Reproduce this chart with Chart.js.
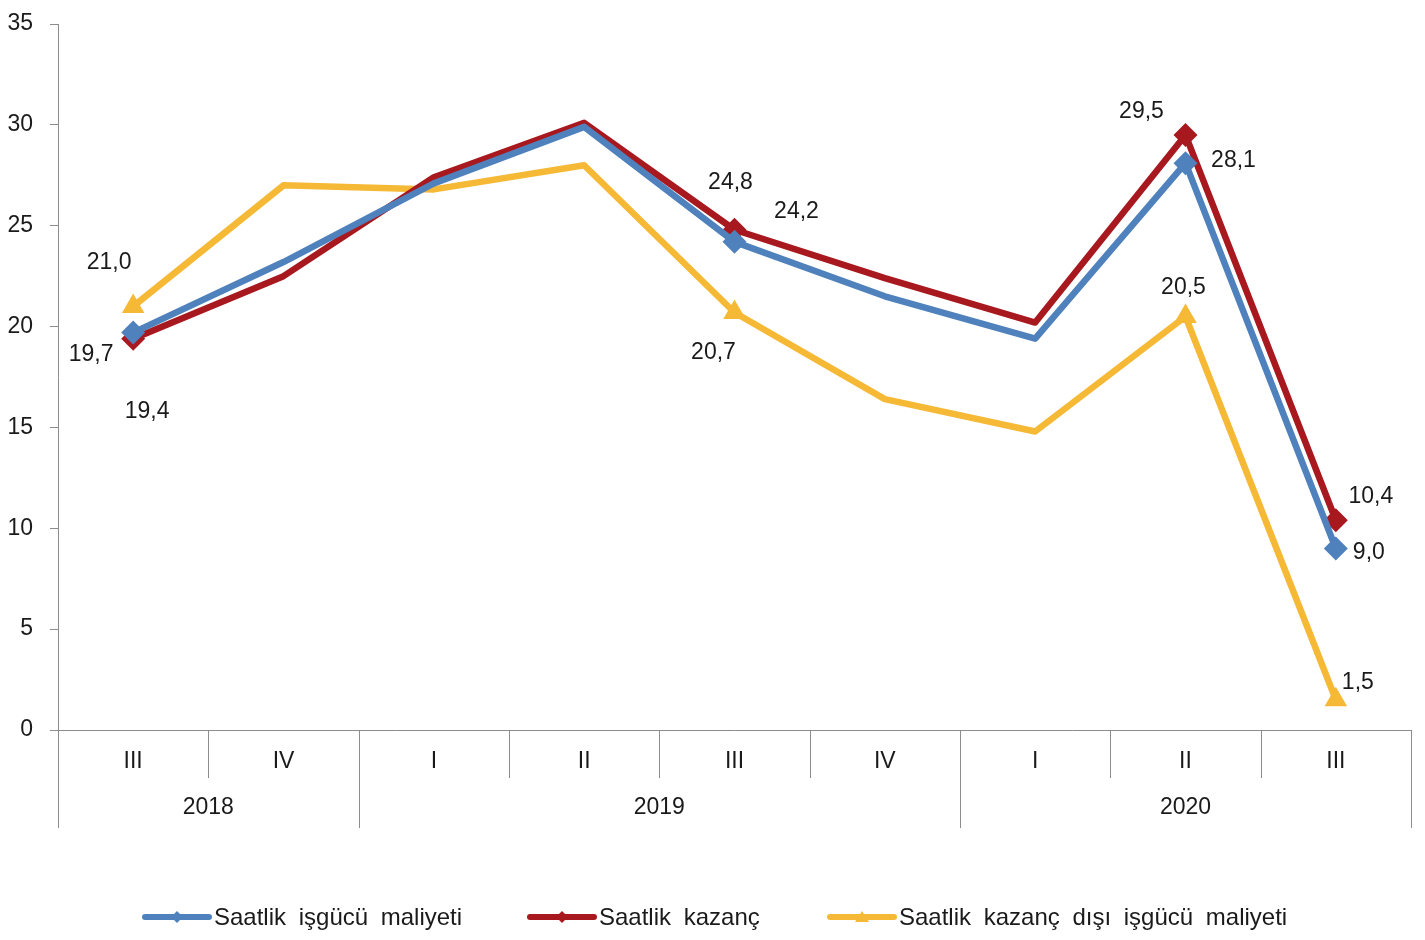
<!DOCTYPE html>
<html>
<head>
<meta charset="utf-8">
<script src="https://cdn.jsdelivr.net/npm/chart.js@4/dist/chart.umd.min.js"></script>
<style>
	html, body { margin: 0; padding: 0; background: #fff; }
	#wrap { width: 1425px; height: 940px; }
</style>
</head>
<body>
<div id="wrap"><canvas id="chart" width="1425" height="940"></canvas></div>
<script>
// quarters and years (bottom axis)
const quarters = ['III', 'IV', 'I', 'II', 'III', 'IV', 'I', 'II', 'III'];
const years = [
	{ label: '2018', from: 0, to: 1 },
	{ label: '2019', from: 2, to: 5 },
	{ label: '2020', from: 6, to: 8 }
];
const yTicks = [0, 5, 10, 15, 20, 25, 30, 35];

// yillik degisim (%)
const saatlikIsgucu = [19.7, 23.2, 27.1, 29.9, 24.2, 21.5, 19.4, 28.1, 9.0];
const saatlikKazanc = [19.4, 22.5, 27.4, 30.1, 24.8, 22.4, 20.2, 29.5, 10.4];
const kazancDisi = [21.0, 27.0, 26.8, 28.0, 20.7, 16.4, 14.8, 20.5, 1.5];

// which points get a marker + value label
const labelled = [0, 4, 7, 8];

const seriesNames = ['Saatlik işgücü maliyeti', 'Saatlik kazanç', 'Saatlik kazanç dışı işgücü maliyeti'];
const colors = ['#4f81bd', '#a8191f', '#f5b936'];

// label offsets (px) from the point, per series, per labelled point
const labelOffsets = [
	{ 0: [-42, 22], 4: [62, -30], 7: [48, -3], 8: [33, 4] },
	{ 0: [14, 73], 4: [-4, -47], 7: [-44, -23], 8: [35, -24] },
	{ 0: [-24, -44], 4: [-21, 40], 7: [-2, -29], 8: [22, -17] }
];

const FONT = '"Liberation Sans", Arial, sans-serif';
const FSIZE = 23;

function radii(r)
{
	return quarters.map((q, i) => labelled.includes(i) ? r : 0);
}

const valueLabels = {
	id: 'valueLabels',
	afterDatasetsDraw(chart)
	{
		const ctx = chart.ctx;
		ctx.save();
		ctx.font = FSIZE + 'px ' + FONT;
		ctx.fillStyle = '#1a1a1a';
		ctx.textAlign = 'center';
		ctx.textBaseline = 'middle';
		chart.data.datasets.forEach((ds, d) => {
			const meta = chart.getDatasetMeta(d);
			labelled.forEach(i => {
				const pt = meta.data[i];
				const off = labelOffsets[d][i];
				ctx.fillText(ds.data[i].toFixed(1).replace('.', ','), pt.x + off[0], pt.y + off[1]);
			});
		});
		ctx.restore();
	}
};

// two level category axis + legend, drawn by hand
const bottomAxis = {
	id: 'bottomAxis',
	afterDraw(chart)
	{
		const ctx = chart.ctx;
		const x = chart.scales.x;
		const area = chart.chartArea;
		const w = (area.right - area.left) / quarters.length;
		const y0 = area.bottom;
		ctx.save();
		ctx.strokeStyle = '#8c8c8c';
		ctx.lineWidth = 1;
		// axis line
		ctx.beginPath();
		ctx.moveTo(area.left, y0 + 0.5);
		ctx.lineTo(area.right, y0 + 0.5);
		ctx.stroke();
		// quarter separators
		const yearEdges = [];
		years.forEach(y => { yearEdges.push(y.from); yearEdges.push(y.to + 1); });
		for (let i = 0; i <= quarters.length; i++)
		{
			const px = Math.round(area.left + i * w) + 0.5;
			ctx.beginPath();
			ctx.moveTo(px, y0);
			ctx.lineTo(px, yearEdges.includes(i) ? y0 + 98 : y0 + 48);
			ctx.stroke();
		}
		ctx.font = FSIZE + 'px ' + FONT;
		ctx.fillStyle = '#1a1a1a';
		ctx.textAlign = 'center';
		ctx.textBaseline = 'middle';
		quarters.forEach((q, i) => {
			ctx.fillText(q, x.getPixelForValue(i), y0 + 32);
		});
		years.forEach(y => {
			const cx = (x.getPixelForValue(y.from) + x.getPixelForValue(y.to)) / 2;
			ctx.fillText(y.label, cx, y0 + 78);
		});

		// legend
		const legendX = [145, 530, 830];
		const ly = 917;
		ctx.textAlign = 'left';
		ctx.font = '24px ' + FONT;
		ctx.wordSpacing = '6px';
		seriesNames.forEach((name, d) => {
			const lx = legendX[d];
			ctx.strokeStyle = colors[d];
			ctx.lineWidth = 6;
			ctx.lineCap = 'round';
			ctx.beginPath();
			ctx.moveTo(lx, ly);
			ctx.lineTo(lx + 64, ly);
			ctx.stroke();
			ctx.fillStyle = colors[d];
			ctx.beginPath();
			if (d === 2)
			{
				ctx.moveTo(lx + 32, ly - 6);
				ctx.lineTo(lx + 39, ly + 5);
				ctx.lineTo(lx + 25, ly + 5);
			}
			else
			{
				ctx.moveTo(lx + 32, ly - 6);
				ctx.lineTo(lx + 38, ly);
				ctx.lineTo(lx + 32, ly + 6);
				ctx.lineTo(lx + 26, ly);
			}
			ctx.closePath();
			ctx.fill();
			ctx.fillStyle = '#1a1a1a';
			ctx.fillText(name, lx + 69, ly + 1);
		});
		ctx.restore();
	}
};

const datasets = [saatlikIsgucu, saatlikKazanc, kazancDisi].map((vals, d) => ({
	label: seriesNames[d],
	data: vals,
	borderColor: colors[d],
	backgroundColor: colors[d],
	borderWidth: 6.5,
	pointStyle: d === 2 ? 'triangle' : 'rectRot',
	pointRadius: radii(d === 2 ? 13 : 12),
	pointHoverRadius: radii(d === 2 ? 13 : 12),
	pointBorderWidth: 0,
	tension: 0,
	borderJoinStyle: 'round'
}));

new Chart(document.getElementById('chart').getContext('2d'), {
	type: 'line',
	data: { labels: quarters, datasets: datasets },
	options: {
		responsive: false,
		animation: false,
		layout: { padding: { top: 24, right: 14, bottom: 202, left: 0 } },
		plugins: {
			legend: { display: false },
			tooltip: { enabled: false }
		},
		scales: {
			x: {
				offset: true,
				grid: { display: false },
				border: { display: false },
				ticks: { display: false }
			},
			y: {
				min: 0,
				max: 35,
				afterBuildTicks: s => { s.ticks = yTicks.map(v => ({ value: v })); },
				afterFit: s => { s.width = 58; s.paddingTop = 0; s.paddingBottom = 0; },
				grid: {
					display: true,
					drawOnChartArea: false,
					drawTicks: true,
					tickLength: 8,
					color: '#8c8c8c'
				},
				border: { display: true, color: '#8c8c8c', width: 1 },
				ticks: {
					color: '#1a1a1a',
					font: { size: FSIZE, family: FONT },
					padding: 17
				}
			}
		}
	},
	plugins: [valueLabels, bottomAxis]
});
</script>
</body>
</html>
